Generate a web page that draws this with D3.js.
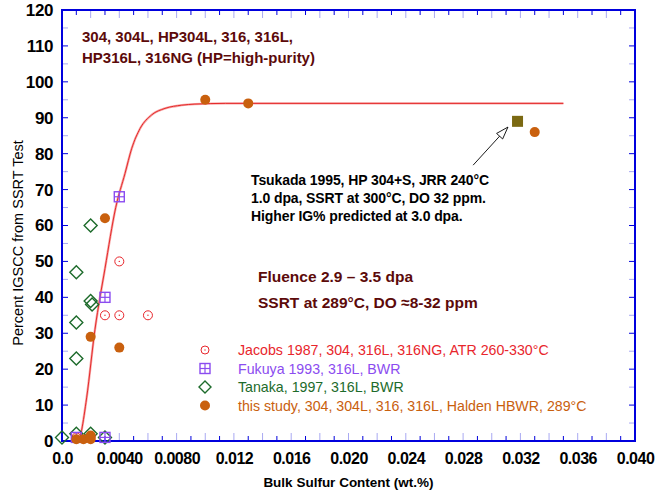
<!DOCTYPE html>
<html><head><meta charset="utf-8">
<script src="https://cdn.jsdelivr.net/npm/d3@7"></script>
<style>body{margin:0;background:#fff}text{font-family:"Liberation Sans",Arial,sans-serif}</style>
</head><body>
<svg id="c" width="657" height="496"></svg>
<script>
// ---------- data ----------
const xTickValues = [0, 0.004, 0.008, 0.012, 0.016, 0.020, 0.024, 0.028, 0.032, 0.036, 0.040];
const xTickLabels = ["0.0", "0.0040", "0.0080", "0.012", "0.016", "0.020", "0.024", "0.028", "0.032", "0.036", "0.040"];
const yTickValues = [0, 10, 20, 30, 40, 50, 60, 70, 80, 90, 100, 110, 120];
const yTickLabels = ["0", "10", "20", "30", "40", "50", "60", "70", "80", "90", "100", "110", "120"];

// [sulfur wt.%, percent IGSCC]
const jacobs = [[0.004, 50], [0.003, 35], [0.004, 35], [0.006, 35], [0.001, 1], [0.002, 1]];
const fukuya = [[0.004, 68], [0.003, 40], [0.001, 1], [0.003, 1]];
const tanaka = [[0.002, 60], [0.001, 47], [0.002, 39], [0.0021, 38], [0.001, 33], [0.001, 23],
                [0, 1], [0.001, 2], [0.002, 2], [0.003, 1]];
const thisStudy = [[0.010, 95], [0.013, 94], [0.033, 86], [0.003, 62], [0.002, 29], [0.004, 26],
                   [0.001, 0.5], [0.0015, 0.5], [0.002, 1.5], [0.002, 0.5]];
const tsukada = [[0.0318, 89]];
const fitCurve = [[0.0012, 0], [0.00137, 3], [0.00172, 12], [0.0023, 31], [0.003, 48], [0.00375, 65],
                  [0.0044, 74.5], [0.00487, 81.5], [0.00545, 87], [0.00626, 90.8], [0.00719, 92.6],
                  [0.00836, 93.5], [0.00928, 93.8], [0.0114, 94], [0.035, 94]];

const legendLabels = ["Jacobs 1987, 304, 316L, 316NG, ATR 260-330°C", "Fukuya 1993, 316L, BWR",
                      "Tanaka, 1997, 316L, BWR", "this study, 304, 304L, 316, 316L, Halden HBWR, 289°C"];
const noteLines = ["Tsukada 1995, HP 304+S, JRR 240°C", "1.0 dpa, SSRT at 300°C, DO 32 ppm.",
                   "Higher IG% predicted at 3.0 dpa."];
const alloyLines = ["304, 304L, HP304L, 316, 316L,", "HP316L, 316NG (HP=high-purity)"];
const condLines = ["Fluence 2.9 – 3.5 dpa", "SSRT at 289°C, DO ≈8-32 ppm"];

// ---------- layout ----------
const L = 62, R = 635, T = 10, B = 441;
const svg = d3.select("#c");
const x = d3.scaleLinear().domain([0, 0.040]).range([L, R]);
const y = d3.scaleLinear().domain([0, 120]).range([B, T]);

const C = {jac: "#e8262c", fuk: "#8b4cf0", tan: "#1d6b2b", ths: "#c9600e", tsu: "#7b6912",
           dark: "#5c0a0a", axis: "#0000dd", light: "#a9a9f2"};

// minor/major ticks (inward)
const xt = d3.range(0, 41).map(i => i * 0.001);
xt.forEach((v, i) => {
  const even = i % 2 === 0;
  const len = even ? 8 : 5, col = even ? C.light : C.axis;
  svg.append("line").attr("x1", x(v)).attr("x2", x(v)).attr("y1", B).attr("y2", B - len).attr("stroke", col).attr("stroke-width", 1);
  svg.append("line").attr("x1", x(v)).attr("x2", x(v)).attr("y1", T).attr("y2", T + len).attr("stroke", col).attr("stroke-width", 1);
});
const yt = d3.range(0, 25).map(i => i * 5);
yt.forEach((v, i) => {
  const even = i % 2 === 0;
  const col = even ? C.axis : C.light;
  svg.append("line").attr("x1", L).attr("x2", L + 6).attr("y1", y(v)).attr("y2", y(v)).attr("stroke", col).attr("stroke-width", 1);
  svg.append("line").attr("x1", R).attr("x2", R - 6).attr("y1", y(v)).attr("y2", y(v)).attr("stroke", col).attr("stroke-width", 1);
});

// frame
svg.append("rect").attr("x", L).attr("y", T).attr("width", R - L).attr("height", B - T)
  .attr("fill", "none").attr("stroke", C.axis).attr("stroke-width", 2);

// tick labels via axes
const xAxis = d3.axisBottom(x).tickValues(xTickValues).tickSize(0).tickPadding(0)
  .tickFormat((d, i) => xTickLabels[i]);
const gx = svg.append("g").attr("transform", `translate(0,${B + 9})`).call(xAxis);
gx.select(".domain").remove();
gx.selectAll("text").attr("font-size", 16).attr("font-weight", "bold").attr("fill", "#000")
  .attr("dy", "0.85em").attr("letter-spacing", "-0.5").style("font-family", "'Liberation Sans',Arial,sans-serif");

const yAxis = d3.axisLeft(y).tickValues(yTickValues).tickSize(0).tickPadding(0)
  .tickFormat((d, i) => yTickLabels[i]);
const gy = svg.append("g").attr("transform", `translate(${L - 9},0)`).call(yAxis);
gy.select(".domain").remove();
gy.selectAll("text").attr("font-size", 17).attr("font-weight", "bold").attr("fill", "#000")
  .attr("letter-spacing", "-0.4").style("font-family", "'Liberation Sans',Arial,sans-serif");

// axis titles
svg.append("text").attr("x", (L + R) / 2).attr("y", 487).attr("text-anchor", "middle")
  .attr("font-size", 13.5).attr("font-weight", "bold").text("Bulk Sulfur Content (wt.%)");
svg.append("text").attr("transform", `translate(23,243) rotate(-90)`).attr("text-anchor", "middle")
  .attr("font-size", 14.5).text("Percent IGSCC from SSRT Test");

// fit curve
const line = d3.line().x(d => x(d[0])).y(d => y(d[1])).curve(d3.curveMonotoneX);
svg.append("path").datum(fitCurve).attr("d", line).attr("fill", "none").attr("stroke", "#f7a8a8").attr("stroke-width", 2.4);
svg.append("path").datum(fitCurve).attr("d", line).attr("fill", "none").attr("stroke", "#e52a2a").attr("stroke-width", 1);

// marker functions
function circOpen(g, cx, cy, r) {
  g.append("circle").attr("cx", cx).attr("cy", cy).attr("r", r).attr("fill", "none").attr("stroke", C.jac).attr("stroke-width", 1);
  g.append("circle").attr("cx", cx).attr("cy", cy).attr("r", 0.7).attr("fill", C.jac);
}
function sqCross(g, cx, cy, s) {
  g.append("rect").attr("x", cx - s / 2).attr("y", cy - s / 2).attr("width", s).attr("height", s)
    .attr("fill", "none").attr("stroke", C.fuk).attr("stroke-width", 1.4);
  g.append("line").attr("x1", cx - s / 2).attr("x2", cx + s / 2).attr("y1", cy).attr("y2", cy).attr("stroke", C.fuk).attr("stroke-width", 1.2);
  g.append("line").attr("x1", cx).attr("x2", cx).attr("y1", cy - s / 2).attr("y2", cy + s / 2).attr("stroke", C.fuk).attr("stroke-width", 1.2);
}
function diamond(g, cx, cy, h) {
  g.append("path").attr("d", `M${cx},${cy - h}L${cx + h},${cy}L${cx},${cy + h}L${cx - h},${cy}Z`)
    .attr("fill", "none").attr("stroke", C.tan).attr("stroke-width", 1.4);
}
function dot(g, cx, cy, r) {
  g.append("circle").attr("cx", cx).attr("cy", cy).attr("r", r).attr("fill", C.ths);
}

const gm = svg.append("g");
tanaka.forEach(d => diamond(gm, x(d[0]), y(d[1]), 6.5));
jacobs.forEach(d => circOpen(gm, x(d[0]), y(d[1]), 4.5));
fukuya.forEach(d => sqCross(gm, x(d[0]), y(d[1]), 10));
thisStudy.forEach(d => dot(gm, x(d[0]), y(d[1]), 5));
tsukada.forEach(d => gm.append("rect").attr("x", x(d[0]) - 5.5).attr("y", y(d[1]) - 5.5)
  .attr("width", 11).attr("height", 11).attr("fill", C.tsu));

// arrow annotation
const ax0 = x(0.0287), ay0 = y(76.8), ax1 = x(0.03113), ay1 = y(87.4);
svg.append("line").attr("x1", ax0).attr("y1", ay0).attr("x2", ax1).attr("y2", ay1).attr("stroke", "#000").attr("stroke-width", 0.9);
{
  const ang = Math.atan2(ay1 - ay0, ax1 - ax0), len = 13, w = 0.32;
  const p1 = [ax1 - len * Math.cos(ang - w), ay1 - len * Math.sin(ang - w)];
  const p2 = [ax1 - len * Math.cos(ang + w), ay1 - len * Math.sin(ang + w)];
  svg.append("path").attr("d", `M${p1}L${ax1},${ay1}L${p2}Z`).attr("fill", "#fff").attr("stroke", "#000").attr("stroke-width", 0.9);
}

// texts
const noteG = svg.append("g");
noteLines.forEach((t, i) => noteG.append("text").attr("x", 251).attr("y", 185 + i * 18)
  .attr("font-size", 14).attr("font-weight", "bold").attr("letter-spacing", "-0.1").attr("fill", "#000").text(t));
alloyLines.forEach((t, i) => svg.append("text").attr("x", 82).attr("y", 42 + i * 21)
  .attr("font-size", 15).attr("font-weight", "bold").attr("letter-spacing", "0").attr("fill", C.dark).text(t));
condLines.forEach((t, i) => svg.append("text").attr("x", 258).attr("y", 282 + i * 26)
  .attr("font-size", 15.5).attr("font-weight", "bold").attr("letter-spacing", "0").attr("fill", C.dark).text(t));

// legend
const lg = svg.append("g");
const lgCol = [C.jac, C.fuk, C.tan, C.ths];
legendLabels.forEach((t, i) => {
  const cy = 350 + i * 18.5, cx = 205;
  if (i === 0) circOpen(lg, cx, cy, 4);
  if (i === 1) sqCross(lg, cx, cy, 10);
  if (i === 2) diamond(lg, cx, cy, 6);
  if (i === 3) dot(lg, cx, cy, 5);
  lg.append("text").attr("x", 238).attr("y", cy + 5).attr("font-size", 14.2).attr("fill", lgCol[i]).text(t);
});
</script>
</body></html>
